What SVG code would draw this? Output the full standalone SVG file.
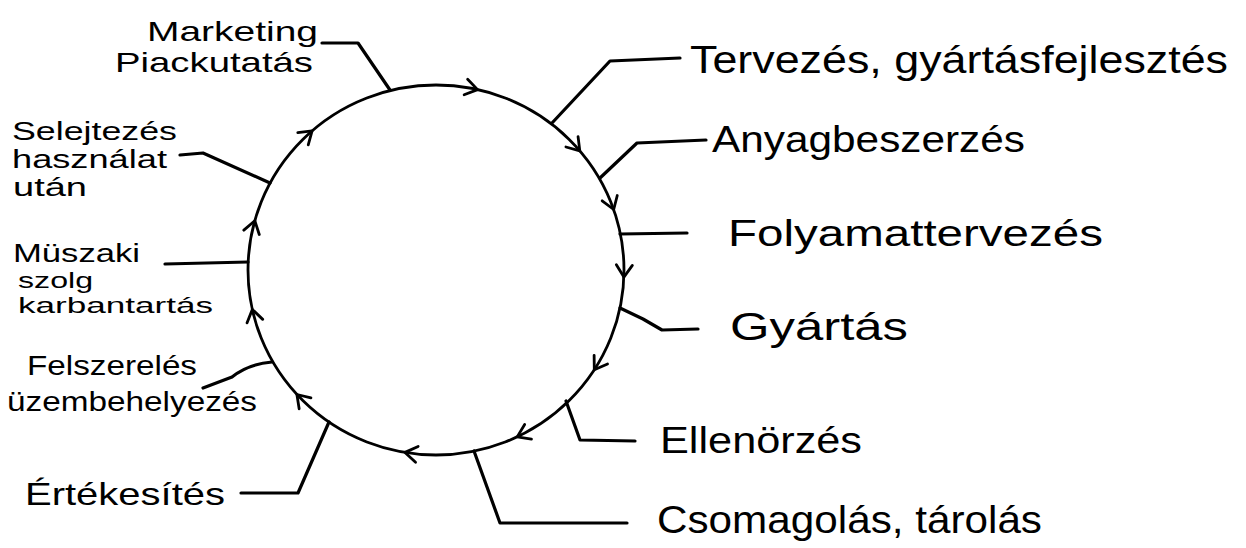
<svg xmlns="http://www.w3.org/2000/svg" width="1246" height="548" viewBox="0 0 1246 548">
<style>
.t{font-family:"Liberation Sans","DejaVu Sans",sans-serif;fill:#000}
.ring{fill:none;stroke:#000;stroke-width:2.8}
.lead{fill:none;stroke:#000;stroke-width:3.2;stroke-linecap:round;stroke-linejoin:round}
.ah{fill:none;stroke:#000;stroke-width:2.8;stroke-linecap:round;stroke-linejoin:round}
</style>
<defs>
<path id="chev" d="M-12,-8 L0,0 L-12,8"/>
</defs>
<rect width="1246" height="548" fill="#fff"/>
<g id="connectors">
<ellipse class="ring" cx="436" cy="270" rx="188" ry="185"/>
<g class="ah">
<use href="#chev" transform="translate(477.6,89.6) rotate(12.6)"/>
<use href="#chev" transform="translate(579.8,150.9) rotate(49.4)"/>
<use href="#chev" transform="translate(613.7,209.5) rotate(70.6)"/>
<use href="#chev" transform="translate(623.9,277.1) rotate(92.2)"/>
<use href="#chev" transform="translate(594.3,369.7) rotate(123)"/>
<use href="#chev" transform="translate(517.2,436.9) rotate(154.8)"/>
<use href="#chev" transform="translate(405,452.4) rotate(189.3)"/>
<use href="#chev" transform="translate(296.9,394.5) rotate(227.3)"/>
<use href="#chev" transform="translate(252.3,309.4) rotate(257.5)"/>
<use href="#chev" transform="translate(254.8,220.8) rotate(285.7)"/>
<use href="#chev" transform="translate(312.1,130.9) rotate(319.2)"/>
</g>
<path class="lead" d="M322,43 L358,43 L390,90"/>
<path class="lead" d="M552,123 L610,61 L680,58"/>
<path class="lead" d="M600,178 L637,143 L706,140"/>
<path class="lead" d="M620,234 L687,233"/>
<path class="lead" d="M620,308 L643,319 L662,330 L698,329"/>
<path class="lead" d="M566,401 L580,440 L635,441"/>
<path class="lead" d="M474,451 L500,523 L627,523"/>
<path class="lead" d="M180,155 L203,153 L270,183"/>
<path class="lead" d="M165,264 L248,262"/>
<path class="lead" d="M272,362 Q248,364 232,377 L203,388"/>
<path class="lead" d="M329,422 L298,493 L241,493"/>
</g>
<g id="n-marketing">
<text class="t" x="147" y="41" font-size="28" textLength="171" lengthAdjust="spacingAndGlyphs">Marketing</text>
<text class="t" x="115" y="72" font-size="28" textLength="198" lengthAdjust="spacingAndGlyphs">Piackutatás</text>
</g>
<g id="n-tervezes">
<text class="t" x="690" y="73" font-size="38" textLength="538" lengthAdjust="spacingAndGlyphs">Tervezés, gyártásfejlesztés</text>
</g>
<g id="n-anyag">
<text class="t" x="712" y="152" font-size="36" textLength="313" lengthAdjust="spacingAndGlyphs">Anyagbeszerzés</text>
</g>
<g id="n-folyamat">
<text class="t" x="728" y="246" font-size="36" textLength="375" lengthAdjust="spacingAndGlyphs">Folyamattervezés</text>
</g>
<g id="n-gyartas">
<text class="t" x="730" y="340" font-size="38" textLength="178" lengthAdjust="spacingAndGlyphs">Gyártás</text>
</g>
<g id="n-ellenorzes">
<text class="t" x="660" y="453" font-size="36" textLength="202" lengthAdjust="spacingAndGlyphs">Ellenörzés</text>
</g>
<g id="n-csomagolas">
<text class="t" x="657" y="533" font-size="38" textLength="385" lengthAdjust="spacingAndGlyphs">Csomagolás, tárolás</text>
</g>
<g id="n-ertekesites">
<text class="t" x="25" y="505" font-size="32" textLength="200" lengthAdjust="spacingAndGlyphs">Értékesítés</text>
</g>
<g id="n-felszereles">
<text class="t" x="27" y="375" font-size="27" textLength="170" lengthAdjust="spacingAndGlyphs">Felszerelés</text>
<text class="t" x="7" y="411" font-size="27" textLength="250" lengthAdjust="spacingAndGlyphs">üzembehelyezés</text>
</g>
<g id="n-muszaki">
<text class="t" x="13" y="262" font-size="26" textLength="127" lengthAdjust="spacingAndGlyphs">Müszaki</text>
<text class="t" x="18" y="288" font-size="22" textLength="75" lengthAdjust="spacingAndGlyphs">szolg</text>
<text class="t" x="18" y="313" font-size="22" textLength="195" lengthAdjust="spacingAndGlyphs">karbantartás</text>
</g>
<g id="n-selejtezes">
<text class="t" x="12" y="140" font-size="26" textLength="165" lengthAdjust="spacingAndGlyphs">Selejtezés</text>
<text class="t" x="12" y="168" font-size="26" textLength="155" lengthAdjust="spacingAndGlyphs">használat</text>
<text class="t" x="13" y="196" font-size="26" textLength="74" lengthAdjust="spacingAndGlyphs">után</text>
</g>
</svg>
